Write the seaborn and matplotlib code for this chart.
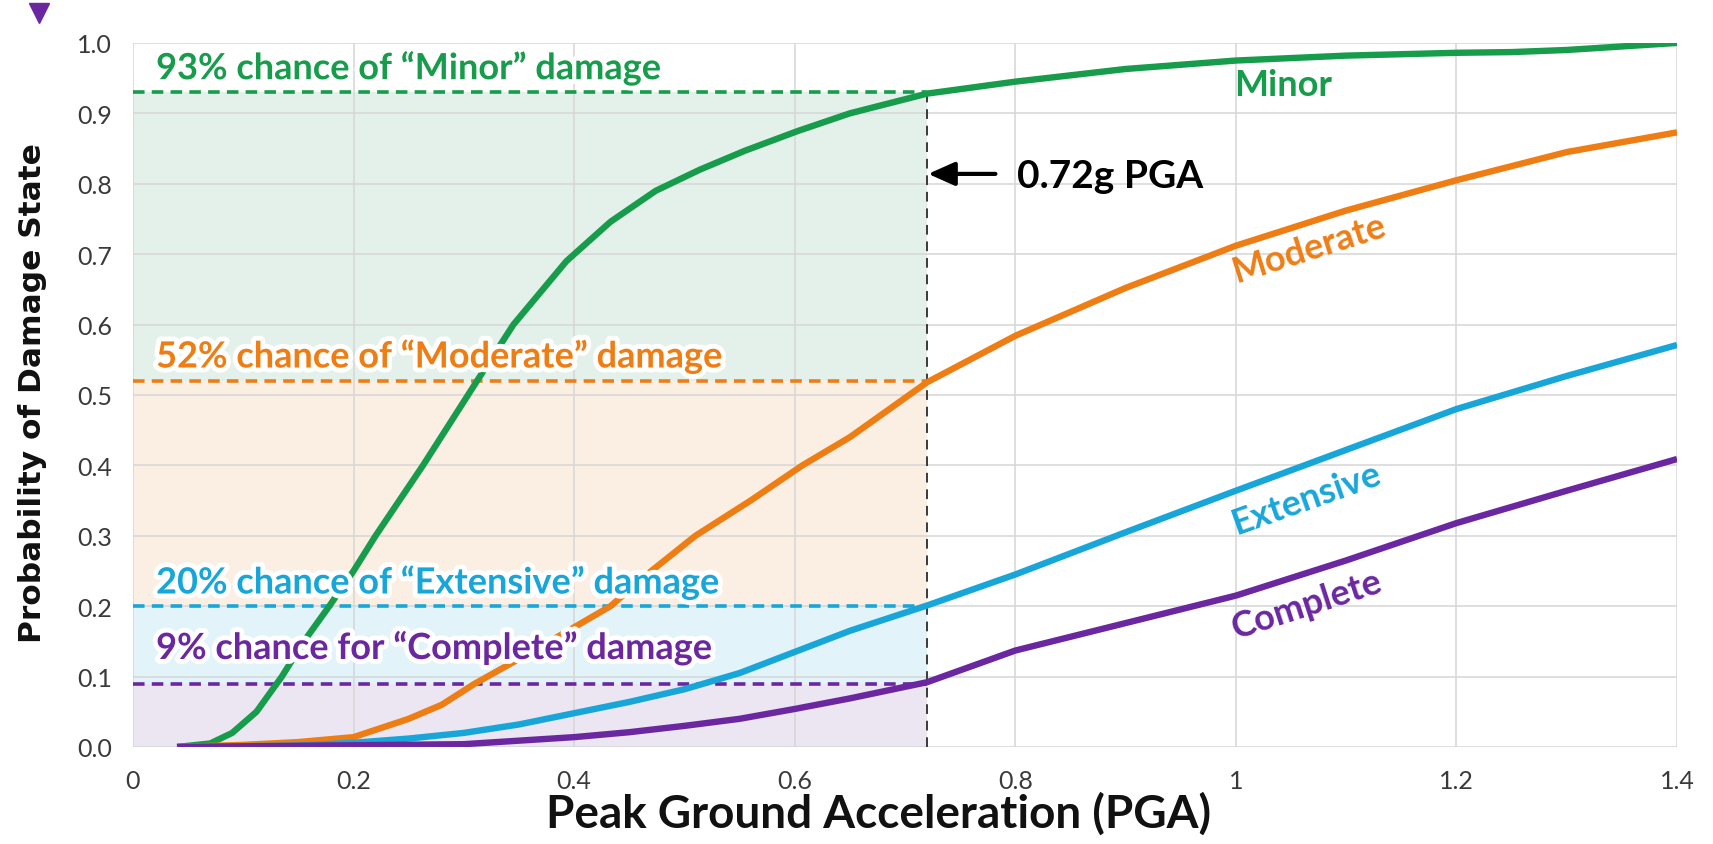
import numpy as np
import pandas as pd
import matplotlib
matplotlib.use("Agg")
import matplotlib.pyplot as plt
import matplotlib.patheffects as pe
import seaborn as sns

# ---- data ----
states = ["Minor", "Moderate", "Extensive", "Complete"]
colors = {"Minor": "#169c4a", "Moderate": "#ee7d14", "Extensive": "#18a6d9", "Complete": "#6a27a0"}
fills = {"Minor": "#e3f1ea", "Moderate": "#fbefe4", "Extensive": "#e2f3f9", "Complete": "#ebe6f2"}

minor_x = [0.04, 0.07, 0.09, 0.112, 0.135, 0.155, 0.178, 0.20, 0.22, 0.263, 0.312, 0.345, 0.393, 0.433, 0.474, 0.514, 0.555, 0.603, 0.65, 0.72, 0.80, 0.90, 1.00, 1.10, 1.20, 1.25, 1.30, 1.40]
minor_y = [0.0, 0.005, 0.02, 0.05, 0.10, 0.15, 0.20, 0.25, 0.30, 0.40, 0.52, 0.60, 0.69, 0.746, 0.79, 0.82, 0.847, 0.875, 0.90, 0.928, 0.945, 0.963, 0.975, 0.982, 0.986, 0.987, 0.99, 1.0]

moderate_x = [0.04, 0.10, 0.15, 0.20, 0.25, 0.28, 0.31, 0.35, 0.40, 0.433, 0.47, 0.51, 0.56, 0.607, 0.65, 0.72, 0.80, 0.90, 1.00, 1.10, 1.20, 1.30, 1.40]
moderate_y = [0.0, 0.003, 0.007, 0.014, 0.04, 0.06, 0.09, 0.125, 0.17, 0.20, 0.25, 0.30, 0.35, 0.40, 0.44, 0.518, 0.584, 0.652, 0.712, 0.762, 0.805, 0.845, 0.873]

extensive_x = [0.04, 0.15, 0.20, 0.25, 0.30, 0.35, 0.40, 0.45, 0.50, 0.55, 0.60, 0.65, 0.72, 0.80, 0.90, 1.00, 1.10, 1.20, 1.30, 1.40]
extensive_y = [0.0, 0.002, 0.006, 0.012, 0.02, 0.032, 0.048, 0.064, 0.082, 0.105, 0.135, 0.165, 0.201, 0.245, 0.305, 0.364, 0.422, 0.48, 0.527, 0.571]

complete_x = [0.04, 0.30, 0.40, 0.45, 0.50, 0.55, 0.60, 0.65, 0.72, 0.80, 0.90, 1.00, 1.10, 1.20, 1.30, 1.40]
complete_y = [0.0, 0.004, 0.014, 0.021, 0.03, 0.04, 0.054, 0.069, 0.092, 0.137, 0.176, 0.215, 0.265, 0.318, 0.364, 0.409]

pga_mark = 0.72
chance = {"Minor": 0.93, "Moderate": 0.52, "Extensive": 0.20, "Complete": 0.09}
chance_text = {
    "Minor": "93% chance of \u201cMinor\u201d damage",
    "Moderate": "52% chance of \u201cModerate\u201d damage",
    "Extensive": "20% chance of \u201cExtensive\u201d damage",
    "Complete": "9% chance for \u201cComplete\u201d damage",
}
xticks = [0, 0.2, 0.4, 0.6, 0.8, 1.0, 1.2, 1.4]
xticklabels = ["0", "0.2", "0.4", "0.6", "0.8", "1", "1.2", "1.4"]
yticks = [0.0, 0.1, 0.2, 0.3, 0.4, 0.5, 0.6, 0.7, 0.8, 0.9, 1.0]

df = pd.concat([
    pd.DataFrame({"PGA": minor_x, "P": minor_y, "State": "Minor"}),
    pd.DataFrame({"PGA": moderate_x, "P": moderate_y, "State": "Moderate"}),
    pd.DataFrame({"PGA": extensive_x, "P": extensive_y, "State": "Extensive"}),
    pd.DataFrame({"PGA": complete_x, "P": complete_y, "State": "Complete"}),
], ignore_index=True)

# ---- style ----
sns.set_theme(style="whitegrid")
plt.rcParams["font.family"] = ["Lato", "DejaVu Sans"]

fig = plt.figure(figsize=(17.13, 8.45), dpi=100)
ax = fig.add_axes([0.0776, 0.1148, 0.9014, 0.8332])

# shaded bands
band_order = ["Complete", "Extensive", "Moderate", "Minor"]
levels = [0.0] + [chance[s] for s in band_order]
for s, lo, hi in zip(band_order, levels[:-1], levels[1:]):
    ax.fill_between([0, pga_mark], lo, hi, color=fills[s], zorder=0.5, linewidth=0)

sns.lineplot(data=df, x="PGA", y="P", hue="State", palette=colors, hue_order=states,
             linewidth=4.6, legend=False, ax=ax, zorder=3, sort=True)
for ln in ax.lines:
    ln.set_solid_capstyle("butt")
    ln.set_solid_joinstyle("round")

# dashed lines
for s in states:
    ax.plot([0, pga_mark], [chance[s], chance[s]], ls=(0, (3.2, 2.0)), color=colors[s], lw=2.6, zorder=2)
ax.plot([pga_mark, pga_mark], [0, chance["Minor"]], ls=(0, (5, 3.5)), color="#3a3a3a", lw=1.4, zorder=2)

glow = [pe.withStroke(linewidth=7, foreground="white")]
text_base = {"Minor": 0.9485, "Moderate": 0.539, "Extensive": 0.218, "Complete": 0.125}
for s in states:
    ax.text(0.021, text_base[s], chance_text[s], color=colors[s], fontsize=26, fontweight="bold",
            va="baseline", ha="left", path_effects=glow, zorder=5)

# curve labels
ax.text(0.998, 0.926, "Minor", color=colors["Minor"], fontsize=26, fontweight="bold", va="baseline", ha="left")
ax.text(1.066, 0.708, "Moderate", color=colors["Moderate"], fontsize=26, fontweight="bold",
        va="center", ha="center", rotation=17.5, rotation_mode="anchor")
ax.text(1.064, 0.353, "Extensive", color=colors["Extensive"], fontsize=26, fontweight="bold",
        va="center", ha="center", rotation=19.5, rotation_mode="anchor")
ax.text(1.064, 0.203, "Complete", color=colors["Complete"], fontsize=26, fontweight="bold",
        va="center", ha="center", rotation=18, rotation_mode="anchor")

# arrow + label
ax.annotate("", xy=(0.721, 0.814), xytext=(0.782, 0.814),
            arrowprops=dict(arrowstyle="-|>,head_length=1.35,head_width=0.6", color="black", lw=3,
                            shrinkA=0, shrinkB=0))
ax.text(0.802, 0.795, "0.72g PGA", fontsize=28, fontweight="bold", color="black", va="baseline", ha="left")

ax.set_xlim(0, 1.4)
ax.set_ylim(0, 1.0)
ax.set_xticks(xticks)
ax.set_xticklabels(xticklabels)
ax.set_yticks(yticks)
ax.set_yticklabels([f"{v:.1f}" for v in yticks])
ax.tick_params(axis="both", labelsize=18, colors="#3a3a3a", length=0)
ax.tick_params(axis="x", pad=16)
ax.tick_params(axis="y", pad=15)
ax.grid(True, color="#d6d6d6", lw=1.1)
for sp in ax.spines.values():
    sp.set_visible(False)
ax.set_axisbelow(True)

ax.set_xlabel("Peak Ground Acceleration (PGA)", fontsize=33, fontweight="bold", color="#111111")
ax.xaxis.set_label_coords(0.483, -0.094)
ax.xaxis.label.set_va("center")
ax.set_ylabel("Probability of Damage State", fontsize=22.5, fontweight="bold", color="#111111",
              family="DejaVu Sans")
ax.yaxis.set_label_coords(-0.0648, 0.504)
ax.yaxis.label.set_va("center")

# decorative purple triangle in the corner
fig.add_artist(plt.Line2D([0.0228], [0.983], marker="v", markersize=15, color=colors["Complete"],
                          transform=fig.transFigure, linestyle="none"))

fig.savefig("out.png", dpi=100, facecolor="white")
